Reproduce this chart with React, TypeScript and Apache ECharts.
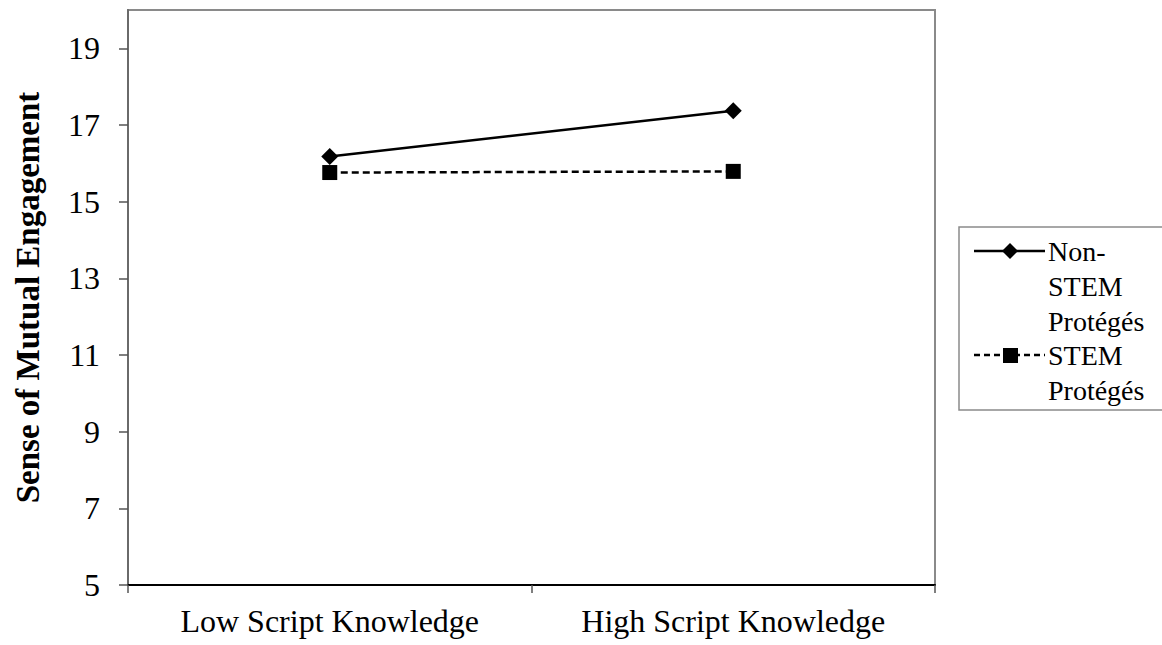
import React, { useEffect, useRef } from "react";
import * as echarts from "echarts";

const categories = ["Low Script Knowledge", "High Script Knowledge"];
const nonStem = [16.18, 17.37];
const stem = [15.76, 15.79];
const yTicks = [5, 7, 9, 11, 13, 15, 17, 19];
const seriesNames = ["Non-STEM Protégés", "STEM Protégés"];
const legendLabels = ["Non-\nSTEM\nProtégés", "STEM\nProtégés"];
const yTitle = "Sense of Mutual Engagement";

const FONT = "'Liberation Serif', 'Times New Roman', serif";

export default function App() {
  const ref = useRef<HTMLDivElement>(null);
  useEffect(() => {
    if (!ref.current) return;
    const chart = echarts.init(ref.current, undefined, { renderer: "svg" });
    const legendX = 959;
    const legendY = 227;
    const rowY = [251, 355];
    const styles = [
      { dash: "solid" as any, symbol: "diamond" },
      { dash: [7, 4] as any, symbol: "rect" },
    ];
    const legendGraphics: any[] = [
      {
        type: "rect",
        shape: { x: legendX, y: legendY, width: 230, height: 183 },
        style: { fill: "none", stroke: "#8a8a8a", lineWidth: 1.5 },
      },
    ];
    rowY.forEach((y, i) => {
      legendGraphics.push({
        type: "line",
        shape: { x1: 974, y1: y, x2: 1045, y2: y },
        style: { stroke: "#000", lineWidth: 2.5, lineDash: i === 0 ? null : [6, 4] },
      });
      if (i === 0) {
        legendGraphics.push({
          type: "polygon",
          shape: { points: [[1010, y - 8], [1018, y], [1010, y + 8], [1002, y]] },
          style: { fill: "#000" },
        });
      } else {
        legendGraphics.push({
          type: "rect",
          shape: { x: 1003, y: y - 7, width: 15, height: 15 },
          style: { fill: "#000" },
        });
      }
    });
    const legendTitles = rowY.map((y, i) => ({
      text: legendLabels[i],
      left: 1048,
      top: y - 17.5,
      padding: 0,
      textStyle: {
        fontFamily: FONT,
        fontSize: 28,
        fontWeight: "normal",
        lineHeight: 35,
        color: "#000",
      },
    }));

    chart.setOption({
      animation: false,
      backgroundColor: "#fff",
      title: legendTitles,
      grid: {
        left: 128,
        top: 10,
        right: 227,
        bottom: 60,
        show: true,
        containLabel: false,
        outerBoundsMode: "none",
        borderColor: "#8a8a8a",
        borderWidth: 2,
      },
      xAxis: {
        type: "category",
        data: categories,
        boundaryGap: true,
        axisLine: { lineStyle: { color: "#000", width: 2 } },
        axisTick: { show: true, length: 8, lineStyle: { color: "#555", width: 1.5 } },
        axisLabel: { fontFamily: FONT, fontSize: 32, color: "#000", margin: 20 },
        splitLine: { show: false },
      },
      yAxis: {
        type: "value",
        min: 5,
        max: 20,
        name: yTitle,
        nameLocation: "middle",
        nameGap: 84,
        nameTextStyle: { fontFamily: FONT, fontSize: 33, fontWeight: "bold", color: "#000" },
        axisLine: { show: true, lineStyle: { color: "#6a6a6a", width: 2 } },
        axisTick: { show: true, length: 9, customValues: yTicks, lineStyle: { color: "#555", width: 1.5 } },
        axisLabel: { fontFamily: FONT, fontSize: 32, color: "#000", margin: 28, customValues: yTicks },
        splitLine: { show: false },
      },
      series: [nonStem, stem].map((d, i) => ({
        name: seriesNames[i],
        type: "line",
        data: d,
        symbol: styles[i].symbol,
        symbolSize: i === 0 ? 17 : 15,
        itemStyle: { color: "#000" },
        lineStyle: { color: "#000", width: 2.5, type: styles[i].dash },
      })),
      graphic: legendGraphics,
    });
    return () => chart.dispose();
  }, []);
  return (
    <div
      ref={ref}
      style={{ position: "fixed", left: 0, top: 0, width: 1162, height: 645, background: "#fff" }}
    />
  );
}
